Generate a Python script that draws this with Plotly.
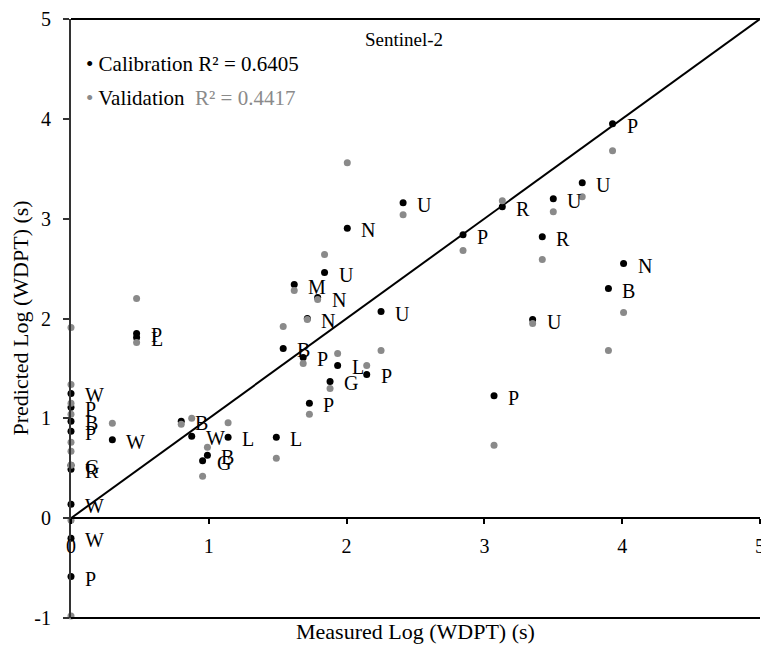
import plotly.graph_objects as go

# ---- data ----
labels = ["W", "P", "B", "P", "G", "R", "W", "W", "P",
          "W", "P", "L", "B", "W", "G", "B", "L", "L",
          "B", "M", "P", "N", "P", "N", "U", "G", "L",
          "N", "P", "U", "U", "P", "P", "R", "U", "R",
          "U", "U", "B", "P", "N"]
measured = [0, 0, 0, 0, 0, 0, 0, 0, 0,
            0.30, 0.476, 0.476, 0.80, 0.876, 0.955, 0.99, 1.14, 1.49,
            1.54, 1.62, 1.685, 1.715, 1.73, 1.79, 1.84, 1.88, 1.935,
            2.005, 2.146, 2.25, 2.41, 2.845, 3.07, 3.13, 3.35, 3.42,
            3.50, 3.71, 3.90, 3.93, 4.01]
pred_cal = [1.25, 1.11, 0.97, 0.87, 0.53, 0.49, 0.14, -0.20, -0.585,
            0.785, 1.85, 1.81, 0.97, 0.82, 0.575, 0.63, 0.81, 0.81,
            1.70, 2.34, 1.61, 2.00, 1.15, 2.21, 2.46, 1.37, 1.53,
            2.905, 1.44, 2.07, 3.16, 2.84, 1.225, 3.12, 1.99, 2.82,
            3.20, 3.36, 2.30, 3.95, 2.55]
pred_val = [1.34, 1.15, 1.04, 0.76, 0.67, 0.53, -0.02, 1.91, -0.98,
            0.95, 2.20, 1.76, 0.94, 1.00, 0.42, 0.71, 0.955, 0.60,
            1.92, 2.28, 1.55, 1.99, 1.04, 2.19, 2.64, 1.30, 1.65,
            3.56, 1.53, 1.68, 3.04, 2.68, 0.73, 3.18, 1.95, 2.59,
            3.07, 3.22, 1.68, 3.68, 2.06]
one_to_one = [0, 5]
x_ticks = [0, 1, 2, 3, 4, 5]
y_ticks = [-1, 0, 1, 2, 3, 4, 5]
r2_cal = 0.6405
r2_val = 0.4417

FONT = "Liberation Serif, Times New Roman, serif"
GRAY = "#8a8a8a"

fig = go.Figure()
fig.add_trace(go.Scatter(x=one_to_one, y=one_to_one, mode="lines",
                         line=dict(color="black", width=2), showlegend=False,
                         hoverinfo="skip"))
fig.add_trace(go.Scatter(x=measured, y=pred_cal, mode="markers",
                         marker=dict(color="black", size=7),
                         name="Calibration", showlegend=False, cliponaxis=False))
fig.add_trace(go.Scatter(x=measured, y=pred_val, mode="markers",
                         marker=dict(color=GRAY, size=7),
                         name="Validation", showlegend=False, cliponaxis=False))

annotations = []
for xv, yv, lab in zip(measured, pred_cal, labels):
    annotations.append(dict(x=xv, y=yv, xref="x", yref="y", text=lab,
                            showarrow=False, xanchor="left", yanchor="middle",
                            xshift=12, yshift=-2,
                            font=dict(family=FONT, size=20, color="black")))

annotations += [
    dict(x=0.483, y=0.965, xref="paper", yref="paper", text="Sentinel-2",
         showarrow=False, xanchor="center", yanchor="middle",
         font=dict(family=FONT, size=19, color="black")),
    dict(x=0.019, y=0.925, xref="paper", yref="paper",
         text=f"• Calibration R² = {r2_cal:.4f}",
         showarrow=False, xanchor="left", yanchor="middle",
         font=dict(family=FONT, size=21, color="black")),
    dict(x=0.019, y=0.868, xref="paper", yref="paper",
         text=f"<span style='color:{GRAY}'>•</span> Validation  <span style='color:{GRAY}'>R² = {r2_val:.4f}</span>",
         showarrow=False, xanchor="left", yanchor="middle",
         font=dict(family=FONT, size=21, color="black")),
    dict(x=0.5, y=-0.023, xref="paper", yref="paper",
         text="Measured Log (WDPT) (s)", showarrow=False,
         xanchor="center", yanchor="middle",
         font=dict(family=FONT, size=22, color="black")),
    dict(x=-0.074, y=0.5, xref="paper", yref="paper",
         text="Predicted Log (WDPT) (s)", showarrow=False, textangle=-90,
         xanchor="center", yanchor="middle",
         font=dict(family=FONT, size=22, color="black")),
]

shapes = [
    dict(type="line", xref="paper", yref="paper", x0=0, x1=1, y0=1, y1=1,
         line=dict(color="black", width=2)),
    dict(type="line", xref="paper", yref="paper", x0=0, x1=1, y0=0, y1=0,
         line=dict(color="black", width=2)),
]

fig.update_layout(
    width=761, height=649,
    margin=dict(l=71, r=1, t=19, b=31, autoexpand=False),
    paper_bgcolor="white", plot_bgcolor="white",
    showlegend=False,
    font=dict(family=FONT, size=20, color="black"),
    annotations=annotations,
    shapes=shapes,
    xaxis=dict(range=[0, 5], tickvals=x_ticks, ticktext=[str(v) for v in x_ticks],
               showgrid=False, zeroline=False, showline=True,
               linecolor="black", linewidth=2,
               ticks="outside", ticklen=5, tickcolor="black", tickwidth=2,
               anchor="free", position=1/6, ticklabelstandoff=5,
               ticklabeloverflow="allow", automargin=False,
               tickfont=dict(family=FONT, size=20, color="black")),
    yaxis=dict(range=[-1, 5], tickvals=y_ticks, ticktext=[str(v) for v in y_ticks],
               showgrid=False, zeroline=False, showline=True,
               linecolor="#333333", linewidth=2,
               ticks="outside", ticklen=6, tickcolor="#333333", tickwidth=1.5,
               ticklabelstandoff=8, ticklabeloverflow="allow", automargin=False,
               tickfont=dict(family=FONT, size=20, color="black")),
)

fig.write_html("out.html")
